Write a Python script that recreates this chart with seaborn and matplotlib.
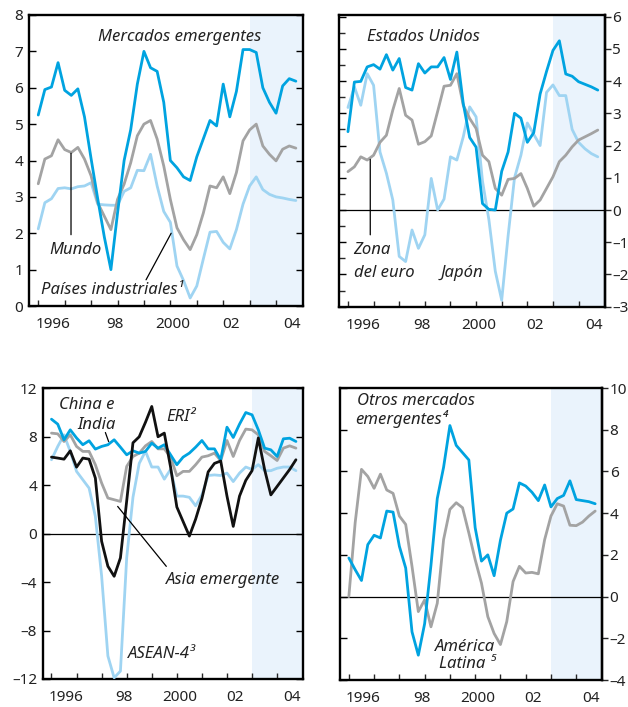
import numpy as np
import pandas as pd
import matplotlib
matplotlib.use("Agg")
import matplotlib.pyplot as plt
import seaborn as sns

sns.set_theme(style="ticks")
plt.rcParams["font.family"] = ["Noto Sans", "DejaVu Sans"]
plt.rcParams["axes.unicode_minus"] = False

# quarterly time axis 1995Q1 .. 2004Q4
quarters = 1995 + np.arange(40) / 4.0

# ---- Panel 1: world
mercados = [5.25, 5.95, 6.02, 6.69, 5.93, 5.79, 5.97, 5.2, 4.05, 2.95,
            1.9, 1.0, 2.55, 4.0, 4.85, 6.1, 7.0, 6.55, 6.45, 5.6,
            4.0, 3.8, 3.55, 3.45, 4.1, 4.6, 5.1, 4.95, 6.1, 5.2,
            5.9, 7.05, 7.05, 6.97, 6.0, 5.6, 5.3, 6.05, 6.25, 6.18]
mundo = [3.36, 4.04, 4.13, 4.57, 4.3, 4.22, 4.36, 4.04, 3.58, 2.84,
         2.47, 2.1, 2.93, 3.35, 3.94, 4.68, 5.0, 5.1, 4.59, 3.85,
         2.93, 2.15, 1.82, 1.55, 1.96, 2.56, 3.3, 3.25, 3.55, 3.09,
         3.67, 4.54, 4.84, 5.0, 4.4, 4.17, 3.99, 4.31, 4.4, 4.34]
industriales = [2.12, 2.84, 2.95, 3.23, 3.25, 3.22, 3.28, 3.3, 3.39, 2.8,
                2.78, 2.77, 2.77, 3.15, 3.25, 3.73, 3.72, 4.17, 3.3, 2.6,
                2.3, 1.1, 0.7, 0.22, 0.55, 1.3, 2.03, 2.05, 1.75, 1.57,
                2.1, 2.8, 3.3, 3.55, 3.2, 3.07, 3.0, 2.97, 2.93, 2.9]

# ---- Panel 2: advanced economies
eeuu = [2.43, 3.97, 3.99, 4.44, 4.51, 4.37, 4.82, 4.34, 4.7, 3.8,
        3.72, 4.54, 4.25, 4.44, 4.44, 4.73, 4.05, 4.9, 3.3, 2.25,
        1.95, 0.2, 0.02, 0.0, 1.2, 1.8, 3.0, 2.85, 2.1, 2.4,
        3.6, 4.3, 4.95, 5.25, 4.22, 4.15, 3.98, 3.9, 3.82, 3.72]
japon = [3.18, 3.82, 3.25, 4.23, 3.87, 1.8, 1.14, 0.31, -1.44, -1.6,
         -0.62, -1.19, -0.77, 0.98, 0.0, 0.34, 1.65, 1.55, 2.27, 3.2,
         2.89, 0.9, -0.3, -1.9, -2.8, -0.8, 1.0, 1.7, 2.7, 2.35,
         2.0, 3.65, 3.88, 3.55, 3.55, 2.5, 2.1, 1.9, 1.75, 1.65]
euro = [1.19, 1.34, 1.65, 1.55, 1.7, 2.1, 2.32, 3.1, 3.77, 2.94,
        2.79, 2.04, 2.12, 2.3, 3.06, 3.84, 3.87, 4.23, 3.25, 2.84,
        2.53, 1.7, 1.5, 0.67, 0.46, 0.95, 0.98, 1.13, 0.67, 0.12,
        0.31, 0.67, 1.03, 1.5, 1.7, 1.96, 2.17, 2.27, 2.37, 2.48]

# ---- Panel 3: emerging Asia
china_india = [9.45, 9.04, 7.75, 8.57, 7.9, 7.34, 7.67, 6.98, 7.2, 7.34,
               7.75, 7.14, 6.51, 6.84, 6.65, 6.79, 7.47, 7.06, 7.34, 6.51,
               5.69, 6.32, 6.65, 7.14, 7.69, 7.0, 7.0, 6.1, 8.79, 7.94,
               9.04, 10.0, 9.81, 8.57, 7.06, 6.92, 6.37, 7.83, 7.88, 7.61]
eri = [8.3, 8.24, 7.61, 8.16, 7.2, 6.79, 6.79, 5.69, 4.18, 2.94,
       2.8, 2.66, 5.55, 6.37, 6.65, 7.25, 7.61, 7.0, 7.0, 6.32,
       4.78, 5.14, 5.14, 5.69, 6.32, 6.43, 6.65, 6.04, 7.69, 6.37,
       7.69, 8.63, 8.57, 8.16, 6.79, 6.43, 6.04, 7.06, 7.25, 7.06]
asean4 = [6.1, 7.2, 8.16, 6.79, 5.14, 4.45, 3.76, 1.43, -3.5, -10.1,
          -11.9, -11.35, -2.0, 3.0, 5.8, 6.8, 5.5, 5.5, 4.5, 5.3,
          3.1, 3.1, 3.0, 2.3, 3.2, 4.8, 4.85, 4.8, 5.0, 4.3,
          5.0, 5.5, 5.3, 5.7, 5.2, 5.2, 5.4, 5.5, 5.5, 5.2]
asia_emergente = [6.32, 6.24, 6.15, 6.84, 5.49, 6.24, 6.15, 4.59, -0.63, -2.69,
                  -3.52, -2.0, 2.7, 7.5, 8.0, 9.2, 10.5, 8.0, 8.3, 5.5,
                  2.2, 1.0, -0.2, 1.2, 2.9, 5.1, 5.8, 6.0, 3.1, 0.6,
                  3.1, 4.4, 5.2, 7.9, 5.3, 3.2, 3.9, 4.6, 5.3, 6.1]

# ---- Panel 4: other emerging markets
otros = [1.85, 1.29, 0.77, 2.49, 2.94, 2.81, 4.1, 4.05, 2.41, 1.37,
         -1.69, -2.81, -1.3, 1.5, 4.7, 6.2, 8.2, 7.25, 6.9, 6.55,
         3.3, 1.7, 2.0, 1.0, 2.7, 4.0, 4.2, 5.45, 5.3, 5.0,
         4.6, 5.35, 4.3, 4.7, 4.85, 5.55, 4.65, 4.6, 4.55, 4.45]
latina = [0.0, 3.54, 6.1, 5.76, 5.19, 5.87, 5.11, 4.95, 3.86, 3.46,
          1.45, -0.72, -0.16, -1.45, -0.32, 2.73, 4.18, 4.5, 4.26, 3.05,
          1.77, 0.64, -0.96, -1.77, -2.3, -1.2, 0.72, 1.45, 1.13, 1.16,
          1.09, 2.73, 3.86, 4.45, 4.34, 3.42, 3.4, 3.57, 3.86, 4.1]

xtick_labels = ["1996", "98", "2000", "02", "04"]
xtick_pos = [1995.58, 1997.9, 2000.1, 2002.3, 2004.6]
year_ticks = list(range(1995, 2005))
proj_start = 2003.0

BLUE = "#00a3e0"
LIGHT = "#9fd4f2"
GRAY = "#a3a3a3"
BLACK = "#111111"
SHADE = "#eaf3fc"

XMIN, XMAX = 1994.65, 2005.02
W, H = 628, 707


def rect(l, t, r, b):
    return [l / W, 1 - b / H, (r - l) / W, (b - t) / H]


fig = plt.figure(figsize=(6.28, 7.07), dpi=100)


def fmt_tick(v):
    return ("–" + str(abs(v))) if v < 0 else str(v)


def panel(r, series, ylim, yticks, side, zero=False, minor_left=None):
    ax = fig.add_axes(r)
    ax.set_facecolor("white")
    ax.axvspan(proj_start, XMAX, color=SHADE, lw=0, zorder=0)
    if zero:
        ax.axhline(0, color="black", lw=0.9, zorder=1)
    names = [s[0] for s in series]
    df = pd.concat([pd.DataFrame({"t": quarters, "v": s[1], "s": s[0]}) for s in series])
    sns.lineplot(data=df, x="t", y="v", hue="s", hue_order=names,
                 palette={s[0]: s[2] for s in series}, lw=2.0, legend=False,
                 ax=ax, sort=False, zorder=3)
    ax.set_xlim(XMIN, XMAX)
    ax.set_ylim(*ylim)
    ax.set_xlabel("")
    ax.set_ylabel("")
    ax.set_xticks(xtick_pos, labels=xtick_labels)
    ax.set_xticks(year_ticks, minor=True)
    ax.tick_params(axis="x", which="major", length=0, pad=8, labelsize=11, colors="#222222")
    ax.tick_params(axis="x", which="minor", direction="in", length=4, width=1.0,
                   bottom=True, top=False)
    for sp in ax.spines.values():
        sp.set_visible(True)
        sp.set_linewidth(1.7)
        sp.set_color("black")
    ylabels = [fmt_tick(v) for v in yticks]
    if side == "left":
        ax.set_yticks(yticks, labels=ylabels)
        ax.tick_params(axis="y", which="major", direction="in", length=5, width=1.0,
                       left=True, right=True, labelleft=True, labelright=False,
                       labelsize=11, pad=4)
    else:
        ax.set_yticks(yticks)
        ax.tick_params(axis="y", which="major", direction="in", length=5, width=1.0,
                       left=True, right=False, labelleft=False, labelright=False)
        if minor_left is not None:
            ax.set_yticks(minor_left, minor=True)
            ax.tick_params(axis="y", which="minor", direction="in", length=4, width=1.0,
                           left=True, right=False)
        sec = ax.secondary_yaxis("right")
        sec.set_yticks(yticks, labels=ylabels)
        sec.tick_params(axis="y", direction="out", length=4, width=1.0, labelsize=11,
                        pad=1.5, labelcolor="#222222")
        sec.spines["right"].set_linewidth(1.7)
    ax.tick_params(axis="y", colors="black", labelcolor="#222222")
    return ax


TX = dict(style="italic", fontsize=12, color="#222222")
LN = dict(arrowstyle="-", lw=0.9, color="black", shrinkA=0, shrinkB=0)

# ---- top-left
ax1 = panel(rect(29, 15, 303, 306),
            [("Países industriales", industriales, LIGHT),
             ("Mundo", mundo, GRAY),
             ("Mercados emergentes", mercados, BLUE)],
            (0, 8), list(range(0, 9)), "left")
ax1.text(1997.26, 7.4, "Mercados emergentes", ha="left", va="center", **TX)
ax1.text(1995.42, 1.55, "Mundo", ha="left", va="center", **TX)
ax1.annotate("", xy=(1996.24, 4.2), xytext=(1996.24, 1.96), arrowprops=LN)
ax1.text(1995.1, 0.44, "Países industriales¹", ha="left", va="center", **TX)
ax1.annotate("", xy=(2000.03, 2.0), xytext=(1999.08, 0.72), arrowprops=LN)

# ---- top-right
ax2 = panel(rect(339, 15, 604.7, 306.7),
            [("Japón", japon, LIGHT),
             ("Zona del euro", euro, GRAY),
             ("Estados Unidos", eeuu, BLUE)],
            (-3, 6.05), list(range(-3, 7)), "right", zero=True,
            minor_left=[v + 0.5 for v in range(-3, 6)])
ax2.text(1995.74, 5.37, "Estados Unidos", ha="left", va="center", **TX)
ax2.text(1995.22, -1.24, "Zona", ha="left", va="center", **TX)
ax2.text(1995.22, -1.95, "del euro", ha="left", va="center", **TX)
ax2.annotate("", xy=(1995.87, 1.57), xytext=(1995.87, -0.77), arrowprops=LN)
ax2.text(1998.61, -1.96, "Japón", ha="left", va="center", **TX)

# ---- bottom-left
ax3 = panel(rect(42.7, 388.3, 302.7, 679),
            [("ASEAN-4", asean4, LIGHT),
             ("ERI", eri, GRAY),
             ("China e India", china_india, BLUE),
             ("Asia emergente", asia_emergente, BLACK)],
            (-12, 12), list(range(-12, 13, 4)), "left", zero=True)
ax3.text(1995.31, 10.63, "China e", ha="left", va="center", **TX)
ax3.text(1996.81, 8.98, "India", ha="center", va="center", **TX)
ax3.annotate("", xy=(1997.28, 7.6), xytext=(1997.15, 8.35), arrowprops=LN)
ax3.text(1999.58, 9.67, "ERI²", ha="left", va="center", **TX)
ax3.text(1999.58, -3.8, "Asia emergente", ha="left", va="center", **TX)
ax3.annotate("", xy=(1997.64, 2.25), xytext=(1999.58, -2.7), arrowprops=LN)
ax3.text(1998.04, -9.97, "ASEAN-4³", ha="left", va="center", **TX)

# ---- bottom-right
ax4 = panel(rect(340, 388, 602, 680),
            [("América Latina", latina, GRAY),
             ("Otros mercados emergentes", otros, BLUE)],
            (-4, 10), list(range(-4, 11, 2)), "right", zero=True)
ax4.text(1995.33, 9.4, "Otros mercados", ha="left", va="center", **TX)
ax4.text(1995.27, 8.52, "emergentes⁴", ha="left", va="center", **TX)
ax4.text(2000.81, -2.41, "América", ha="right", va="center", **TX)
ax4.text(2000.81, -3.21, "Latina ⁵", ha="right", va="center", **TX)

fig.savefig("out.png", dpi=100)
